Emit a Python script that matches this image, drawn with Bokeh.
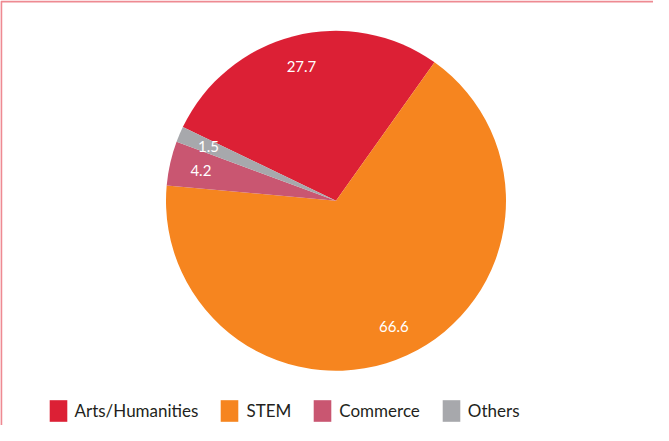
import numpy as np
from bokeh.plotting import figure
from bokeh.models import ColumnDataSource, Range1d
from bokeh.core.properties import value
from bokeh.embed import file_html
from bokeh.resources import INLINE

categories = ["Arts/Humanities", "STEM", "Commerce", "Others"]
shares = [27.7, 66.6, 4.2, 1.5]
value_labels = ["27.7", "66.6", "4.2", "1.5"]
colors = ["#DC2035", "#F6851F", "#C95671", "#A7A8AC"]

FONT = "Lato"

W, H = 653, 425
cx, cy = 335.5, H - 200.3
R = 170.0
start_cw = -64.3  # degrees clockwise from 12 o'clock where the first slice starts

vals = np.array(shares, dtype=float)
frac = vals / vals.sum()
cum = np.concatenate([[0.0], np.cumsum(frac)])
t0 = np.radians(start_cw) + 2 * np.pi * cum[:-1]
t1 = np.radians(start_cw) + 2 * np.pi * cum[1:]
mid = (t0 + t1) / 2

src = ColumnDataSource(dict(
    cat=categories,
    color=colors,
    start=np.pi / 2 - t0,
    end=np.pi / 2 - t1,
    lx=cx + 0.815 * R * np.sin(mid),
    ly=cy + 0.815 * R * np.cos(mid),
    lab=value_labels,
))

p = figure(width=W, height=H, output_backend="svg", toolbar_location=None,
           x_range=Range1d(0, W), y_range=Range1d(0, H), min_border=0,
           tools="")
p.xaxis.visible = False
p.yaxis.visible = False
p.grid.visible = False
p.outline_line_color = None
p.background_fill_color = "white"
p.border_fill_color = "white"

# decorative frame border (top and left edges visible in reference)
p.line(x=[0.75, 0.75, W], y=[0, H - 1, H - 1], line_color="#EE8A92", line_width=2)

p.wedge(x=cx, y=cy, radius=R, start_angle="start", end_angle="end",
        direction="clock", fill_color="color", line_color=None,
        legend_field="cat", source=src)

p.text(x="lx", y="ly", text="lab", source=src, text_color="white",
       text_font=value(FONT), text_font_size="15px",
       text_align="center", text_baseline="middle")

lg = p.legend[0]
lg.orientation = "horizontal"
lg.location = (46.5, 1.5)
lg.glyph_width = 22
lg.glyph_height = 27
lg.label_standoff = 6
lg.spacing = 20
lg.padding = 0
lg.margin = 0
lg.border_line_color = None
lg.background_fill_alpha = 0
lg.label_text_font = FONT
lg.label_text_font_size = "17px"
lg.label_text_color = "#231F20"

open("out.html", "w").write(file_html(p, INLINE))
